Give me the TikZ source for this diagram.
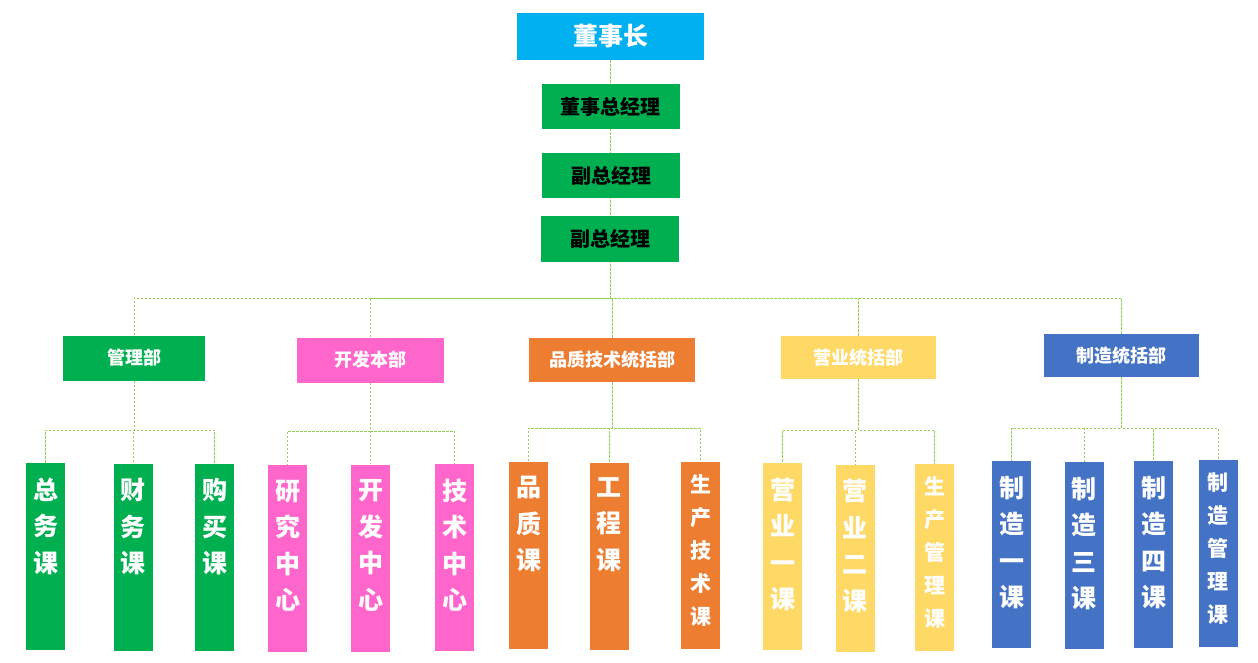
\documentclass[tikz,border=0pt]{standalone}
\usepackage{fontspec}
\newfontfamily\cjk{Noto Sans CJK SC}
\usetikzlibrary{positioning, backgrounds}
\definecolor{topcyan}{HTML}{00B0F0}
\definecolor{mgrgreen}{HTML}{00B050}
\definecolor{devpink}{HTML}{FF66CC}
\definecolor{qaorange}{HTML}{ED7D31}
\definecolor{salesyellow}{HTML}{FFD966}
\definecolor{mfgblue}{HTML}{4472C4}
\definecolor{linkgreen}{HTML}{92D050}
% vertical labels for the section columns
\newcommand{\vlabel}[1]{\parbox[c][187pt][t]{39pt}{\centering\fontsize{25}{36.5}\selectfont\vspace*{15pt}#1}}
\newcommand{\vlabelsm}[1]{\parbox[c][187pt][t]{39pt}{\centering\fontsize{21}{33}\selectfont\vspace*{13pt}#1}}

\begin{document}
\begin{tikzpicture}[x=1pt, y=-1pt,
  link/.style={linkgreen, line width=0.8pt, dash pattern=on 2.5pt off 1.5pt},
  officer/.style={fill=mgrgreen, inner sep=0pt, minimum width=138pt, minimum height=45pt,
    font=\cjk\bfseries\fontsize{20}{24}\selectfont},
  dept/.style={fill=#1, text=white, inner sep=0pt, minimum height=45pt,
    font=\cjk\bfseries\fontsize{18}{22}\selectfont},
  sect/.style={fill=#1, text=white, inner sep=0pt, minimum width=39pt, minimum height=187pt,
    font=\cjk\bfseries}
]
\useasboundingbox (0,0) rectangle (1258,663);

% top of the chart
\node[fill=topcyan, text=white, inner sep=0pt, minimum width=187pt, minimum height=47pt,
  font=\cjk\bfseries\fontsize{25}{30}\selectfont] (chair) at (610.5,36.5) {董事长};
\node[officer] (gm) at (610.5,107) {董事总经理};
\node[officer] (vpa) at (611,175.5) {副总经理};
\node[officer] (vpb) at (610,239) {副总经理};

% departments
\node[dept=mgrgreen, minimum width=142pt] (admin) at (134,358) {管理部};
\node[dept=devpink, minimum width=147pt] (dev) at (370.5,360) {开发本部};
\node[dept=qaorange, minimum width=166pt, minimum height=44pt] (qa) at (612,360) {品质技术统括部};
\node[dept=salesyellow, minimum width=155pt, minimum height=43pt] (sales) at (858.5,357.5) {营业统括部};
\node[dept=mfgblue, minimum width=155pt, minimum height=43pt] (mfg) at (1121.5,355.5) {制造统括部};

% sections
\node[sect=mgrgreen] (gen) at (45.5,556.5) {\vlabel{总\\务\\课}};
\node[sect=mgrgreen] (fin) at (133,557) {\vlabel{财\\务\\课}};
\node[sect=mgrgreen] (buy) at (214.5,557) {\vlabel{购\\买\\课}};
\node[sect=devpink] (res) at (287.5,558.5) {\vlabel{研\\究\\中\\心}};
\node[sect=devpink] (devc) at (370.5,558) {\vlabel{开\\发\\中\\心}};
\node[sect=devpink] (tech) at (454.5,557.5) {\vlabel{技\\术\\中\\心}};
\node[sect=qaorange] (qual) at (528.5,555) {\vlabel{品\\质\\课}};
\node[sect=qaorange] (eng) at (609,556) {\vlabel{工\\程\\课}};
\node[sect=qaorange] (ptech) at (700.5,555.5) {\vlabelsm{生\\产\\技\\术\\课}};
\node[sect=salesyellow] (sone) at (782.5,556.5) {\vlabel{营\\业\\一\\课}};
\node[sect=salesyellow] (stwo) at (855,558) {\vlabel{营\\业\\二\\课}};
\node[sect=salesyellow] (pctl) at (934.5,557) {\vlabelsm{生\\产\\管\\理\\课}};
\node[sect=mfgblue] (mone) at (1011.5,554.5) {\vlabel{制\\造\\一\\课}};
\node[sect=mfgblue] (mthree) at (1084,555.5) {\vlabel{制\\造\\三\\课}};
\node[sect=mfgblue] (mfour) at (1153.5,554.5) {\vlabel{制\\造\\四\\课}};
\node[sect=mfgblue] (mctl) at (1218,553.5) {\vlabelsm{制\\造\\管\\理\\课}};

% dashed connectors behind the boxes
\begin{scope}[on background layer]
\coordinate (hub) at (chair.south |- 0,298);
\draw[link] (chair.south) -- (hub);
\foreach \d in {admin,dev,qa,sales,mfg}
  \draw[link] (\d.north) |- (hub);
\coordinate (badmin) at (admin.south |- 0,430);
\coordinate (bdev) at (dev.south |- 0,431);
\coordinate (bqa) at (qa.south |- 0,428);
\coordinate (bsales) at (sales.south |- 0,430);
\coordinate (bmfg) at (mfg.south |- 0,428);
\foreach \d/\s in {admin/gen, admin/fin, admin/buy,
    dev/res, dev/devc, dev/tech,
    qa/qual, qa/eng, qa/ptech,
    sales/sone, sales/stwo, sales/pctl,
    mfg/mone, mfg/mthree, mfg/mfour, mfg/mctl}
  \draw[link] (\d.south) -- (b\d) -| (\s.north);
\end{scope}
\end{tikzpicture}
\end{document}
